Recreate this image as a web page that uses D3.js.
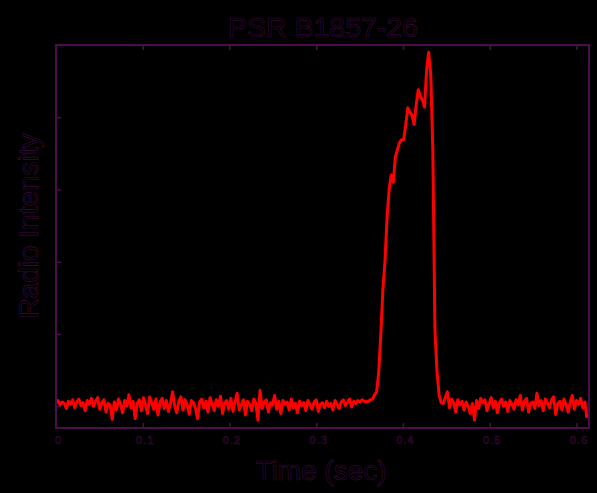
<!DOCTYPE html>
<html>
<head>
<meta charset="utf-8">
<script src="https://cdn.jsdelivr.net/npm/d3@7"></script>
<style>
  html, body { margin: 0; padding: 0; background: #000; }
  svg { display: block; }
</style>
</head>
<body>
<script>
// sampling of the profile (s per bin)
const dt = 0.0024

// off-pulse bins before the pulse
const noiseBefore = [
  0.05, 0.08, 0.02, 0.06, 0.04, -0.03, 0.07, 0.03, 0.09, -0.02,
  0.06, 0.1, 0.01, 0.05, -0.06, 0.08, 0.03, 0.11, 0.0, 0.07,
  0.12, -0.04, 0.05, 0.09, -0.08, 0.04, 0.02, -0.18, 0.06, -0.05,
  0.1, 0.03, -0.09, 0.08, 0.0, 0.16, -0.02, 0.07, -0.17, 0.04,
  0.09, -0.06, 0.12, 0.02, -0.1, 0.13, 0.05, -0.04, 0.1, -0.12,
  0.06, 0.11, -0.03, 0.08, -0.07, 0.04, 0.2, 0.01, -0.09, 0.07,
  0.13, -0.05, 0.09, 0.02, -0.11, 0.08, 0.05, -0.03, -0.17, 0.06,
  0.1, -0.02, 0.07, -0.08, 0.12, 0.03, -0.06, 0.09, 0.0, 0.14,
  -0.1, 0.05, 0.08, -0.04, 0.11, -0.07, 0.06, 0.18, -0.05, 0.02,
  0.09, -0.12, 0.07, 0.03, -0.06, 0.1, 0.04, -0.19, 0.22, -0.03,
  0.06, 0.09, -0.08, 0.05, 0.02, 0.15, -0.04, 0.07, -0.1, 0.08,
  0.03, 0.06, -0.05, 0.1, -0.02, 0.04, -0.09, 0.07, 0.01, 0.05,
  -0.06, 0.08, 0.02, -0.04, 0.06, 0.09, -0.07, 0.03, 0.05, -0.02,
  0.07, 0.0, 0.04, -0.05, 0.08, 0.03, -0.03, 0.06, 0.09, 0.01,
  0.05, 0.1, -0.01, 0.07, 0.04, 0.08, 0.06, 0.09, 0.07
]

// on-pulse bins
const pulseValues = [
  0.06, 0.07, 0.09, 0.1, 0.16, 0.2, 0.47, 0.99, 1.61, 2.0,
  2.6, 3.0, 3.2, 3.1, 3.45, 3.55, 3.65, 3.69, 3.69, 3.9,
  4.13, 4.07, 4.03, 3.9, 4.17, 4.38, 4.29, 4.24, 4.14, 4.65,
  4.9, 4.59, 3.54, 1.06, 0.48, 0.16, 0.05
]

// off-pulse bins after the pulse
const noiseAfter = [
  0.04, 0.12, 0.2, -0.02, 0.1, 0.05, -0.08, 0.09, 0.02, 0.07,
  -0.05, 0.06, 0.0, -0.1, 0.04, -0.19, 0.08, -0.03, 0.11, 0.05,
  0.09, -0.06, 0.03, 0.12, -0.02, 0.07, -0.09, 0.05, 0.1, 0.0,
  0.06, -0.07, 0.08, 0.03, -0.04, 0.09, 0.02, 0.15, -0.05, 0.07,
  0.11, -0.08, 0.04, 0.06, -0.03, 0.18, 0.01, 0.08, -0.06, 0.1,
  0.05, -0.02, 0.09, 0.13, -0.11, 0.04, 0.07, -0.05, 0.1, 0.02,
  -0.08, 0.06, 0.15, -0.04, 0.08, 0.03, 0.11, -0.02, 0.06, -0.16
]

const xTicks = [0, 0.1, 0.2, 0.3, 0.4, 0.5, 0.6]
const xTickLabels = ['0', '0.1', '0.2', '0.3', '0.4', '0.5', '0.6']
const yTicks = [0, 1, 2, 3, 4, 5]

const profile = [...noiseBefore, ...pulseValues, ...noiseAfter]

const width = 597
const height = 493
const ink = '#4a0f4a'
const textInk = '#3e0a3e'

const svg = d3.select('body').append('svg')
  .attr('width', width)
  .attr('height', height)
  .attr('viewBox', [0, 0, width, height])

svg.append('rect')
  .attr('width', width)
  .attr('height', height)
  .attr('fill', '#000')

const x = d3.scaleLinear().domain([0, 0.6144]).range([56, 589])
const y = d3.scaleLinear().domain([-0.3, 5]).range([428, 45])

// outlined (hollow) lettering
const outline = (sel) => sel
  .attr('fill', '#000')
  .attr('stroke', textInk)
  .attr('stroke-width', 0.6)
  .attr('font-family', '"Liberation Sans", Arial, sans-serif')

// data line
const line = d3.line()
  .x((d, i) => x(i * dt))
  .y((d) => y(d))

svg.append('path')
  .attr('d', line(profile))
  .attr('fill', 'none')
  .attr('stroke', '#ff0000')
  .attr('stroke-width', 3)
  .attr('stroke-linejoin', 'round')

// axes, ticks pointing inward
const bottomAxis = svg.append('g')
  .attr('transform', `translate(0,${y.range()[0]})`)
  .attr('color', ink)
  .call(d3.axisBottom(x).tickValues(xTicks).tickSize(-5).tickSizeOuter(0)
    .tickFormat((d, i) => xTickLabels[i]))
bottomAxis.select('.domain').remove()
bottomAxis.selectAll('line').attr('stroke-width', 1.5)
bottomAxis.selectAll('text')
  .attr('y', 16)
  .attr('dy', 0)
  .attr('dx', 2)
  .attr('font-size', 11)
  .attr('letter-spacing', 1)
  .call(outline)
  .attr('stroke-width', 0.5)

const topAxis = svg.append('g')
  .attr('transform', `translate(0,${y.range()[1]})`)
  .attr('color', ink)
  .call(d3.axisTop(x).tickValues(xTicks).tickSize(-5).tickSizeOuter(0).tickFormat(''))
topAxis.select('.domain').remove()
topAxis.selectAll('line').attr('stroke-width', 1.5)

const leftAxis = svg.append('g')
  .attr('transform', `translate(${x.range()[0]},0)`)
  .attr('color', ink)
  .call(d3.axisLeft(y).tickValues(yTicks).tickSize(-5).tickSizeOuter(0).tickFormat(''))
leftAxis.select('.domain').remove()
leftAxis.selectAll('line').attr('stroke-width', 1.5)

// frame
svg.append('rect')
  .attr('x', x.range()[0])
  .attr('y', y.range()[1])
  .attr('width', x.range()[1] - x.range()[0])
  .attr('height', y.range()[0] - y.range()[1])
  .attr('fill', 'none')
  .attr('stroke', ink)
  .attr('stroke-width', 2)

// titles
svg.append('text')
  .attr('x', 323)
  .attr('y', 37)
  .attr('text-anchor', 'middle')
  .attr('font-size', 28.5)
  .text('PSR B1857-26')
  .call(outline)

svg.append('text')
  .attr('x', 321)
  .attr('y', 480)
  .attr('text-anchor', 'middle')
  .attr('font-size', 28)
  .text('Time (sec)')
  .call(outline)

svg.append('text')
  .attr('transform', 'translate(38,226) rotate(-90)')
  .attr('text-anchor', 'middle')
  .attr('font-size', 28)
  .text('Radio Intensity')
  .call(outline)
</script>
</body>
</html>
